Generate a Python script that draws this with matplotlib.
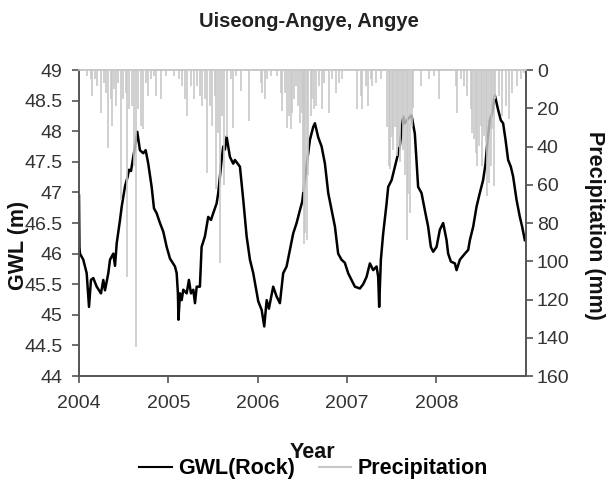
import numpy as np
import matplotlib
matplotlib.use("Agg")
from matplotlib import pyplot as plt
from matplotlib.lines import Line2D

plt.rcParams['font.family'] = ['Liberation Sans', 'DejaVu Sans']

# groundwater level, decimal year / metres
gwl_t = [2004.000, 2004.005, 2004.011, 2004.048, 2004.086, 2004.112, 2004.134, 2004.160,
         2004.198, 2004.246, 2004.272, 2004.291, 2004.328, 2004.347, 2004.384, 2004.403,
         2004.422, 2004.459, 2004.478, 2004.515, 2004.545, 2004.559, 2004.582, 2004.607,
         2004.634, 2004.652, 2004.682, 2004.719, 2004.746, 2004.775, 2004.813, 2004.839,
         2004.869, 2004.906, 2004.943, 2004.981, 2005.018, 2005.074, 2005.093, 2005.107,
         2005.113, 2005.130, 2005.149, 2005.167, 2005.205, 2005.230, 2005.253, 2005.279,
         2005.298, 2005.317, 2005.353, 2005.372, 2005.409, 2005.446, 2005.477, 2005.502,
         2005.540, 2005.558, 2005.596, 2005.614, 2005.633, 2005.652, 2005.689, 2005.726,
         2005.745, 2005.801, 2005.838, 2005.876, 2005.913, 2005.950, 2006.006, 2006.044,
         2006.073, 2006.100, 2006.125, 2006.173, 2006.211, 2006.248, 2006.285, 2006.323,
         2006.360, 2006.397, 2006.435, 2006.472, 2006.498, 2006.539, 2006.584, 2006.621,
         2006.640, 2006.677, 2006.715, 2006.752, 2006.789, 2006.827, 2006.864, 2006.900,
         2006.938, 2006.975, 2007.012, 2007.050, 2007.087, 2007.143, 2007.180, 2007.218,
         2007.255, 2007.292, 2007.330, 2007.348, 2007.359, 2007.378, 2007.404, 2007.442,
         2007.460, 2007.498, 2007.535, 2007.572, 2007.591, 2007.628, 2007.647, 2007.680,
         2007.721, 2007.758, 2007.795, 2007.833, 2007.870, 2007.907, 2007.937, 2007.963,
         2008.001, 2008.038, 2008.075, 2008.113, 2008.131, 2008.161, 2008.206, 2008.225,
         2008.262, 2008.318, 2008.355, 2008.374, 2008.411, 2008.449, 2008.485, 2008.522,
         2008.549, 2008.572, 2008.597, 2008.623, 2008.653, 2008.690, 2008.720, 2008.746,
         2008.773, 2008.802, 2008.832, 2008.858, 2008.896, 2008.933, 2008.959, 2008.989]
gwl = [46.95, 46.10, 46.00, 45.90, 45.68, 45.13, 45.57, 45.60,
       45.46, 45.35, 45.57, 45.40, 45.68, 45.90, 46.00, 45.80,
       46.17, 46.55, 46.77, 47.10, 47.26, 47.37, 47.35, 47.58,
       47.80, 47.99, 47.69, 47.64, 47.69, 47.47, 47.09, 46.74,
       46.66, 46.50, 46.36, 46.11, 45.92, 45.79, 45.68, 45.35,
       44.92, 45.35, 45.24, 45.41, 45.35, 45.57, 45.35, 45.41,
       45.19, 45.46, 45.46, 46.11, 46.28, 46.60, 46.55, 46.66,
       46.82, 46.99, 47.53, 47.75, 47.70, 47.91, 47.58, 47.47,
       47.53, 47.42, 46.88, 46.28, 45.90, 45.68, 45.22, 45.08,
       44.81, 45.24, 45.10, 45.46, 45.30, 45.19, 45.68, 45.79,
       46.06, 46.33, 46.50, 46.71, 46.85, 47.35, 47.86, 48.07,
       48.13, 47.90, 47.75, 47.47, 46.99, 46.71, 46.44, 46.00,
       45.90, 45.85, 45.68, 45.57, 45.46, 45.43, 45.50, 45.62,
       45.84, 45.73, 45.79, 45.62, 45.13, 45.90, 46.33, 46.82,
       47.09, 47.20, 47.42, 47.64, 47.77, 48.24, 48.13, 48.20,
       48.26, 47.96, 47.09, 46.99, 46.71, 46.44, 46.11, 46.03,
       46.11, 46.39, 46.50, 46.22, 46.00, 45.87, 45.84, 45.73,
       45.90, 46.00, 46.06, 46.22, 46.44, 46.77, 46.99, 47.20,
       47.47, 47.86, 48.18, 48.29, 48.59, 48.35, 48.18, 48.13,
       47.86, 47.53, 47.42, 47.26, 46.88, 46.60, 46.44, 46.22]

# daily precipitation events, decimal year / mm
rain_t = [2004.093, 2004.131, 2004.149, 2004.179, 2004.205, 2004.243, 2004.280, 2004.305,
          2004.324, 2004.355, 2004.372, 2004.391, 2004.411, 2004.440, 2004.466, 2004.496,
          2004.522, 2004.540, 2004.559, 2004.596, 2004.615, 2004.634, 2004.663, 2004.690,
          2004.716, 2004.746, 2004.772, 2004.802, 2004.839, 2004.865, 2004.914, 2004.970,
          2005.063, 2005.119, 2005.155, 2005.186, 2005.211, 2005.249, 2005.286, 2005.323,
          2005.350, 2005.379, 2005.409, 2005.435, 2005.462, 2005.491, 2005.518, 2005.536,
          2005.558, 2005.577, 2005.603, 2005.628, 2005.652, 2005.697, 2005.723, 2005.753,
          2005.809, 2005.902, 2006.032, 2006.050, 2006.081, 2006.106, 2006.144, 2006.218,
          2006.256, 2006.274, 2006.304, 2006.330, 2006.349, 2006.368, 2006.386, 2006.405,
          2006.424, 2006.450, 2006.469, 2006.491, 2006.502, 2006.520, 2006.534, 2006.547,
          2006.565, 2006.592, 2006.610, 2006.629, 2006.654, 2006.685, 2006.715, 2006.740,
          2006.796, 2006.833, 2006.871, 2006.908, 2006.945, 2007.113, 2007.151, 2007.169,
          2007.207, 2007.236, 2007.263, 2007.281, 2007.319, 2007.375, 2007.449, 2007.468,
          2007.479, 2007.498, 2007.516, 2007.535, 2007.554, 2007.572, 2007.591, 2007.610,
          2007.628, 2007.647, 2007.666, 2007.684, 2007.702, 2007.721, 2007.739, 2007.822,
          2007.915, 2007.971, 2008.027, 2008.214, 2008.232, 2008.270, 2008.306, 2008.343,
          2008.381, 2008.399, 2008.418, 2008.437, 2008.455, 2008.474, 2008.493, 2008.511,
          2008.530, 2008.549, 2008.567, 2008.586, 2008.605, 2008.623, 2008.642, 2008.660,
          2008.698, 2008.735, 2008.773, 2008.810, 2008.847, 2008.903, 2008.941, 2008.978]
rain = [3.1, 4.9, 13.6, 4.9, 8.4, 22.3, 6.6, 11.8,
        40.6, 15.3, 29.3, 10.1, 18.8, 6.6, 68.0, 15.3,
        11.8, 108.0, 20.6, 18.8, 50.2, 145.0, 20.6, 29.3,
        31.0, 6.6, 13.6, 4.9, 3.1, 13.6, 15.3, 3.1,
        3.1, 4.9, 8.4, 15.3, 24.0, 8.4, 15.3, 8.4,
        13.6, 18.8, 15.3, 53.7, 18.8, 29.3, 13.6, 62.0,
        33.0, 101.0, 24.0, 60.0, 35.0, 4.9, 30.2, 3.1,
        11.0, 26.7, 6.6, 11.8, 15.3, 4.9, 3.1, 3.1,
        11.8, 21.4, 11.8, 30.2, 24.0, 31.0, 22.3, 15.3,
        8.4, 18.8, 27.5, 22.3, 64.0, 91.0, 85.0, 89.0,
        55.0, 24.0, 15.3, 20.6, 18.8, 8.4, 20.6, 6.6,
        22.3, 4.9, 11.8, 6.6, 4.9, 20.6, 13.6, 20.6,
        8.4, 18.8, 4.9, 8.4, 6.6, 4.9, 30.0, 50.0,
        52.0, 35.0, 42.0, 30.0, 45.0, 40.0, 48.0, 25.0,
        42.0, 55.0, 89.0, 65.0, 75.0, 30.0, 20.0, 8.4,
        4.9, 3.1, 15.3, 8.4, 22.3, 4.9, 8.4, 13.6,
        20.6, 32.8, 36.3, 43.2, 50.2, 39.7, 29.3, 50.2,
        34.6, 38.0, 66.0, 59.0, 50.2, 31.0, 60.7, 15.3,
        13.6, 24.0, 18.8, 25.8, 11.8, 8.4, 4.9, 1.4]

year_ticks = [2004, 2005, 2006, 2007, 2008]

fig = plt.figure(figsize=(6.1, 4.88), dpi=100)
ax = fig.add_axes([0.1295, 0.2295, 0.7325, 0.627])

ax.plot(gwl_t, gwl, color='black', lw=1.8, zorder=2)
ax.set_xlim(2004, 2009)
ax.set_ylim(44, 49)
ax.set_yticks(np.arange(44, 49.01, 0.5))
ax.set_yticklabels(['44', '44.5', '45', '45.5', '46', '46.5', '47', '47.5', '48', '48.5', '49'])
ax.set_xticks(year_ticks)
ax.set_xticklabels([str(y) for y in year_ticks])

ax2 = ax.twinx()
ax2.vlines(rain_t, 0, rain, color='#c8c8c8', lw=1.2)
ax2.set_ylim(160, 0)
ax2.set_yticks(np.arange(0, 161, 20))

spine_col = '#555555'
for a in (ax, ax2):
    for s in ('left', 'right', 'bottom'):
        a.spines[s].set_color(spine_col)
        a.spines[s].set_linewidth(1.2)
    a.spines['top'].set_color('#c8c8c8')
    a.spines['top'].set_linewidth(1.2)
    a.tick_params(colors=spine_col, labelcolor='#333333', labelsize=14,
                  direction='out', length=5, width=1.2)
ax.tick_params(axis='x', pad=9)
ax.tick_params(axis='y', pad=7)
ax2.tick_params(axis='y', pad=3)

fig.text(0.507, 0.955, 'Uiseong-Angye, Angye', ha='center', va='center',
         fontsize=14.5, fontweight='bold', color='#222222')
fig.text(0.030, 0.498, 'GWL (m)', rotation=90, ha='center', va='center',
         fontsize=15.5, fontweight='bold', color='#111111')
fig.text(0.974, 0.539, 'Precipitation (mm)', rotation=-90, ha='center', va='center',
         fontsize=15.5, fontweight='bold', color='#111111')
fig.text(0.512, 0.072, 'Year', ha='center', va='center',
         fontsize=15.5, fontweight='bold', color='#111111')

handles = [Line2D([], [], color='black', lw=1.5),
           Line2D([], [], color='#c8c8c8', lw=1.5)]
fig.legend(handles, ['GWL(Rock)', 'Precipitation'], loc='center',
           bbox_to_anchor=(0.514, 0.039), ncol=2, frameon=False,
           prop={'weight': 'bold', 'size': 15.5}, handlelength=1.5,
           handletextpad=0.3, columnspacing=1.1, borderpad=0, borderaxespad=0)

fig.savefig('out.png', dpi=100)
